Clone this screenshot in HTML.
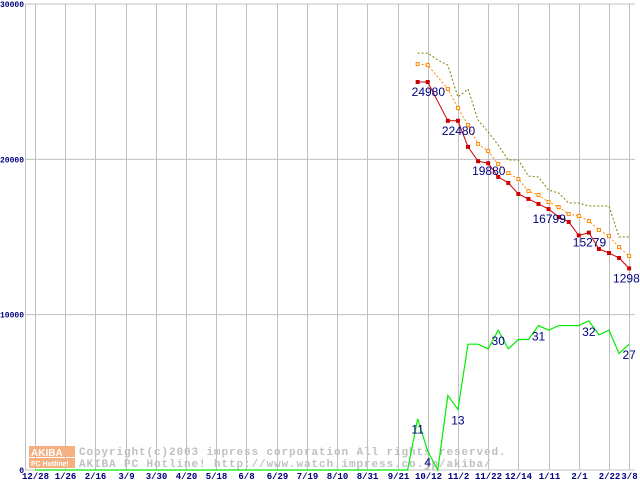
<!DOCTYPE html>
<html><head><meta charset="utf-8"><style>
body{margin:0;background:#fff;width:640px;height:480px;overflow:hidden}
svg{display:block}
.t{font-family:"Liberation Mono",monospace;font-size:9px;font-weight:bold;fill:#000080}
.ty{font-family:"Liberation Mono",monospace;font-size:8px;font-weight:bold;fill:#000080}
.v{font-family:"Liberation Sans",sans-serif;font-size:12px;fill:#000080}
.w{font-family:"Liberation Mono",monospace;font-size:11px;font-weight:bold;fill:#c0c0c0;letter-spacing:0.9px}
</style></head><body>
<svg id="c" width="640" height="480">
<g id="grid"></g>
<g>
<rect x="29" y="446" width="46" height="11" fill="#f4b080"/>
<rect x="29" y="458" width="46" height="10" fill="#f4b080"/>
<text x="31" y="456" font-family="Liberation Sans" font-size="10" font-weight="bold" fill="#fff">AKIBA</text>
<text x="31" y="466" font-family="Liberation Sans" font-size="7" font-weight="bold" fill="#fff">PC Hotline!</text>
<text class="w" x="79" y="455">Copyright(c)2003 impress corporation All rights reserved.</text>
<text class="w" x="79" y="467">AKIBA PC Hotline!  http://www.watch.impress.co.jp/akiba/</text>
</g>
<g id="series"></g>
<g id="labels"></g>
</svg>
<script>
const xLabels=["12/28","1/26","2/16","3/9","3/30","4/20","5/18","6/8","6/29","7/19","8/10","8/31","9/21","10/12","11/2","11/22","12/14","1/11","2/1","2/22","3/8"];
const xLabelWeeks=[0,3,6,9,12,15,18,21,24,27,30,33,36,39,42,45,48,51,54,57,59];
const yTicks=[0,10000,20000,30000];
const startWeek=38;
const minPrice=[24980,24980,null,22480,22480,20800,19880,19750,18870,18480,17770,17450,17130,16799,16290,15970,15100,15279,14230,13970,13650,12980];
const avgPrice=[26133,26069,null,24524,23301,22207,20984,20533,19697,19117,18731,17958,17701,17250,16928,16478,16349,16027,15447,15061,14353,13774];
const maxPrice=[26841,26841,26390,26068,24009,24524,22528,21756,20919,19954,19954,18924,18860,18023,17830,17186,17186,16993,16993,16993,14998,14998];
const shopCount=[11,4,0,16,13,27,27,26,30,26,28,28,31,30,31,31,31,32,29,30,25,27];
const priceLabels=[[38,24980],[41,22480],[44,19880],[50,16799],[54,15279],[58,12980]];
const countLabels=[[38,11],[39,4],[42,13],[46,30],[50,31],[55,32],[59,27]];
const NS="http://www.w3.org/2000/svg";
const X=w=>35+w*10.07, Y=v=>470-v*466/30000, YC=n=>Y(n*300);
function mk(tag,at,parent){const e=document.createElementNS(NS,tag);for(const k in at)e.setAttribute(k,at[k]);parent.appendChild(e);return e;}
const grid=document.getElementById('grid'),ser=document.getElementById('series'),lab=document.getElementById('labels');
yTicks.forEach(v=>{
 const l=mk('line',{x1:25,x2:635,y1:Y(v),y2:Y(v),stroke:'#c0c0c0','stroke-width':1},grid);
 
 
 const t=mk('text',{x:24,y:Y(v)+3,'text-anchor':'end',class:'ty'},grid);t.textContent=v;
 
 
});
let ax=mk('line',{x1:25.5,x2:25.5,y1:4,y2:470,stroke:'#c0c0c0'},grid);


xLabels.forEach((s,i)=>{
 const x=Math.round(X(xLabelWeeks[i]))+0.5;
 const l=mk('line',{x1:x,x2:x,y1:4,y2:470,stroke:'#c0c0c0'},grid);
 
 
 const t=mk('text',{x:x,y:479,'text-anchor':'middle',class:'t'},grid);t.textContent=s;
 
 
});
function pts(arr,yf){const p=[];arr.forEach((v,i)=>{if(v!==null)p.push([X(startWeek+i),yf(v)]);});return p;}
const gp=[[X(0),YC(0)],[X(startWeek-1),YC(0)]].concat(pts(shopCount,YC));
let g=mk('polyline',{points:gp.map(p=>p.join(',')).join(' '),fill:'none',stroke:'#00ee00','stroke-width':1.2},ser);


let o=mk('polyline',{points:pts(maxPrice,Y).map(p=>p.join(',')).join(' '),fill:'none',stroke:'#808000','stroke-width':1,'stroke-dasharray':'2,2'},ser);


const ap=pts(avgPrice,Y);
let a=mk('polyline',{points:ap.map(p=>p.join(',')).join(' '),fill:'none',stroke:'#ff8800','stroke-width':1,'stroke-dasharray':'2,2'},ser);


ap.forEach(p=>{const r=mk('rect',{x:p[0]-1.5,y:p[1]-1.5,width:3,height:3,fill:'#fff',stroke:'#ff8800'},ser);
 
 });
const rp=pts(minPrice,Y);
let m=mk('polyline',{points:rp.map(p=>p.join(',')).join(' '),fill:'none',stroke:'#cc0000','stroke-width':1},ser);


rp.forEach(p=>{const r=mk('rect',{x:p[0]-2,y:p[1]-2,width:4,height:4,fill:'#cc0000'},ser);
 
 });
priceLabels.forEach(([w,v])=>{const t=mk('text',{x:X(w)-6,y:Y(v)+14,class:'v'},lab);t.textContent=v;
 
 });
countLabels.forEach(([w,n])=>{const t=mk('text',{x:X(w),y:YC(n)+15,'text-anchor':'middle',class:'v'},lab);t.textContent=n;
 
 });
</script>
</body></html>
